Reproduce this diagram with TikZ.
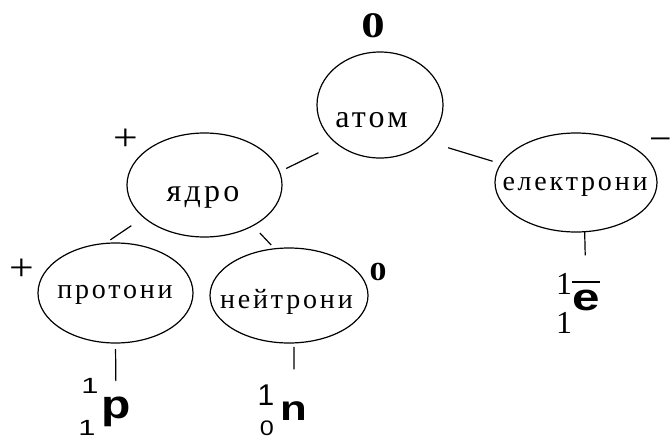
\documentclass[tikz,border=0pt]{standalone}
\usepackage{fontspec}
\setmainfont{Liberation Serif}
\newfontfamily\wordfont[LetterSpace=10]{Liberation Serif}
\newfontfamily\sansfont{Liberation Sans}
\usetikzlibrary{shapes.geometric}
\newcommand\widen[2]{\scalebox{#1}[1]{#2}}

\begin{document}
\begin{tikzpicture}[x=1pt,y=-1pt,
  oval/.style={draw, ellipse, line width=1.2pt, inner sep=0pt, outer sep=0pt},
  word/.style={font=\wordfont\fontsize{28}{30}\selectfont, inner sep=0pt, anchor=base},
  bigword/.style={font=\wordfont\fontsize{32}{34}\selectfont, inner sep=0pt, anchor=base},
  link/.style={line width=1.2pt},
  sign/.style={font=\fontsize{38}{40}\selectfont, inner sep=0pt, anchor=base},
  charge/.style={font=\bfseries\fontsize{#1}{#1}\selectfont, inner sep=0pt, anchor=base},
  idx/.style={font=\sansfont\fontsize{#1}{#1}\selectfont, inner sep=0pt, anchor=base},
  sidx/.style={font=\fontsize{#1}{#1}\selectfont, inner sep=0pt, anchor=base},
  sym/.style={font=\sansfont\bfseries\fontsize{#1}{#1}\selectfont, inner sep=0pt, anchor=base},
]
\fill[white] (0,0) rectangle (672,439);
\useasboundingbox (0,0) rectangle (672,439);

% the tree of particles
\node[oval, minimum width=126, minimum height=106,
      label={[bigword, xshift=-8.5, yshift=-15]center:атом}] (atom) at (380,105) {};
\node[oval, minimum width=155, minimum height=104,
      label={[bigword, xshift=-1.5, yshift=-12]center:ядро}] (yadro) at (204.5,185) {};
\node[oval, minimum width=162, minimum height=99,
      label={[word, xshift=-1, yshift=-4.5]center:електрони}] (elec) at (576,182.5) {};
\node[oval, minimum width=155, minimum height=100,
      label={[word, xshift=-0.5, yshift=-2]center:протони}] (prot) at (115.5,293) {};
\node[oval, minimum width=158, minimum height=95,
      label={[word, xshift=-2.5, yshift=-6.5]center:нейтрони}] (neut) at (289,295.5) {};

% charges
\node[charge=36] (qatom) at (373,37) {\widen{1.3}{0}};
\node[charge=26] (qneut) at (378,280) {\widen{1.3}{0}};
\node[sign] (qyadro) at (126,150) {\widen{1.15}{+}};
\node[sign] (qprot) at (21.5,280) {\widen{1.15}{+}};
\node[sign] (qelec) at (661,151.5) {\widen{1.05}{−}};

% particle symbols
\node[idx=22] (pA) at (90,393) {\widen{1.4}{1}};
\node[idx=22] (pZ) at (87,435.5) {\widen{1.4}{1}};
\node[sym=40] (psym) at (116,418) {\widen{1.2}{p}};

\node[idx=30] (nA) at (266,405) {1};
\node[idx=21] (nZ) at (267,435) {\widen{1.2}{0}};
\node[sym=35] (nsym) at (294,420) {\widen{1.25}{n}};

\node[sidx=32] (eA) at (564,294) {1};
\node[sidx=32] (eZ) at (564,333) {1};
\node[sym=38] (esym) at (586,310) {\widen{1.3}{e}};
\draw[line width=2pt] ([yshift=7.6pt]esym.north west) -- ([yshift=7.6pt]esym.north east);

% connectors
\draw[link, shorten <=7.5, shorten >=20.6] (yadro.10.4) -- (atom.222.8);
\draw[link, shorten <=23, shorten >=8.8] (atom.322) -- (elec.166.8);
\draw[link, shorten <=6.5, shorten >=15] (prot.102.5) -- (yadro.208.8);
\draw[link, shorten <=10.2, shorten >=5.2] (yadro.320.2) -- (neut.107.2);
\draw[link, shorten <=6, shorten >=15] (prot.south) -- (psym.north);
\draw[link, shorten <=4, shorten >=31.5] (neut.276) -- (nsym.north);
\draw[link, shorten >=34] (elec.280) -- (esym.north);
\end{tikzpicture}
\end{document}
